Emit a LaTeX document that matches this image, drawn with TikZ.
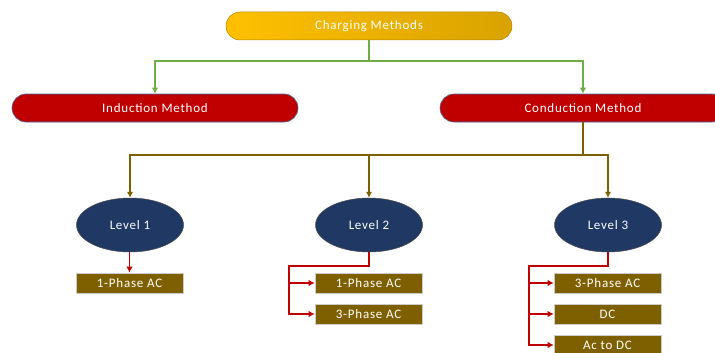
\documentclass[tikz,border=0pt]{standalone}
\usepackage{fontspec}
\setmainfont[LetterSpace=6]{Carlito}
\usepackage{tikz}
\usetikzlibrary{arrows.meta,calc,shapes.geometric}

\definecolor{gold}{HTML}{FFC000}
\definecolor{golddark}{HTML}{D9A300}
\definecolor{pillred}{HTML}{C00000}
\definecolor{pillrim}{HTML}{41719C}
\definecolor{navy}{HTML}{1F3864}
\definecolor{olive}{HTML}{7F6000}
\definecolor{leaf}{HTML}{70AD47}

\tikzset{
	pill/.style={rectangle,rounded corners=14pt,minimum width=286pt,minimum height=28pt,
		inner sep=0pt,text=white,font=\fontsize{13}{15}\selectfont},
	redpill/.style={pill,fill=pillred,draw=pillrim,line width=0.6pt},
	levelnode/.style={ellipse,fill=navy,draw=black!70,line width=0.5pt,minimum width=107pt,
		minimum height=54pt,inner sep=0pt,text=white,font=\fontsize{13}{15}\selectfont},
	typebox/.style={rectangle,fill=olive,draw=black!20,line width=0.6pt,minimum width=107pt,
		minimum height=20pt,inner sep=0pt,text=white,font=\fontsize{13}{15}\selectfont},
	gline/.style={draw=leaf,line width=1.8pt,-{Latex[length=6pt,width=6.5pt]}},
	bline/.style={draw=olive,line width=1.8pt,-{Latex[length=6pt,width=6.5pt]}},
	rline/.style={draw=pillred,line width=1.8pt,-{Latex[length=6pt,width=6.5pt]}},
}

\begin{document}
\begin{tikzpicture}[x=1pt,y=-1pt]
	\useasboundingbox (0,0) rectangle (715,353);
	\clip (0,0) rectangle (715,353);

	%top
	\node[pill,left color=gold,right color=golddark,draw=golddark!80!black,line width=0.5pt] (cm) at (369,26) {Charging Methods};
	%methods
	\node[redpill] (ind)  at (155,108) {Induction Method};
	\node[redpill] (cond) at (583,108) {Conduction Method};
	%levels
	\node[levelnode] (l1) at (130,225) {Level 1};
	\node[levelnode] (l2) at (369,225) {Level 2};
	\node[levelnode] (l3) at (608,225) {Level 3};
	%types
	\node[typebox] (a11) at (129.5,283) {1-Phase AC};
	\node[typebox] (a21) at (368.5,283) {1-Phase AC};
	\node[typebox] (a22) at (368.5,314) {3-Phase AC};
	\node[typebox] (a31) at (607.5,283) {3-Phase AC};
	\node[typebox] (a32) at (607.5,314) {DC};
	\node[typebox] (a33) at (607.5,345) {Ac to DC};

	%arrows
	\draw[gline] (cm.south) -- ++(0,21) -| (ind.north);
	\draw[gline] (cm.south) -- ++(0,21) -| (cond.north);
	%
	\draw[bline] (cond.south) -- ++(0,33) -| (l1.north);
	\draw[bline] (cond.south) -- ++(0,33) -| (l2.north);
	\draw[bline] (cond.south) -- ++(0,33) -| (l3.north);
	%
	\draw[rline] (l1.south -| a11.north) -- (a11.north);
	%
	\coordinate (t2) at (289,266);
	\draw[rline] (l2.south) |- (t2) |- (a21.west);
	\draw[rline] (t2) |- (a22.west);
	%
	\coordinate (t3) at (529,266);
	\draw[rline] (l3.south) |- (t3) |- (a31.west);
	\draw[rline] (t3) |- (a32.west);
	\draw[rline] (t3) |- (a33.west);
\end{tikzpicture}
\end{document}
